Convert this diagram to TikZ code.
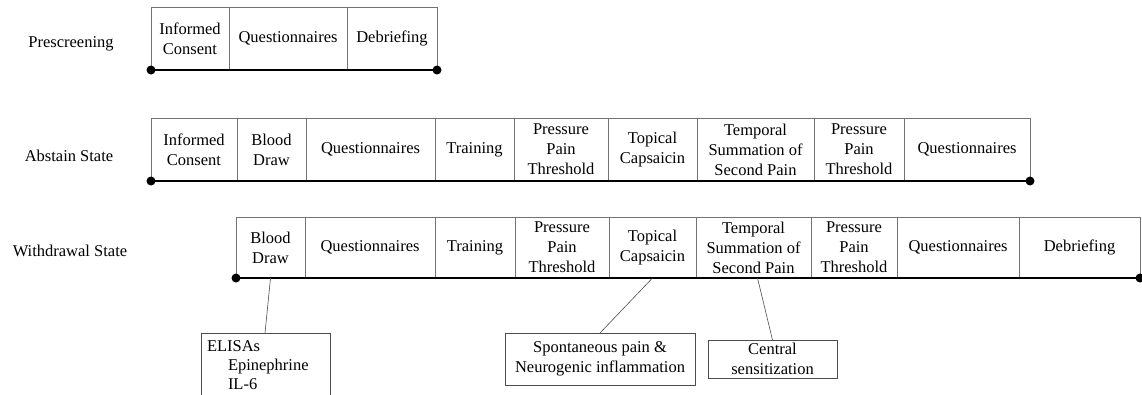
\documentclass[tikz,border=0pt]{standalone}
\usepackage{fontspec}
\setmainfont{Liberation Serif}
\usetikzlibrary{calc}
\begin{document}
\begin{tikzpicture}[x=1pt,y=-1pt,
  txt/.style={font=\fontsize{16.5}{20}\selectfont},
  cell/.style={txt, draw=black!55, line width=0.7pt, anchor=north west, align=center, inner sep=0pt, outer sep=0pt},
  rowP/.style={cell, minimum height=62.5pt},
  rowA/.style={cell, minimum height=63pt},
  rowW/.style={cell, minimum height=61pt},
  lbl/.style={txt, anchor=center},
  timeline/.style={line width=1.8pt, black},
  dot/.style={black},
  callout/.style={txt, draw=black!70, line width=0.6pt, anchor=north west, outer sep=0pt},
  conn/.style={draw=black!70, line width=0.6pt}]
\useasboundingbox (0,0) rectangle (1142,394);

% labels
\node[lbl] (lp) at (71,44) {Prescreening};
\node[lbl] (la) at (69,156) {Abstain State};
\node[lbl] (lw) at (70,251) {Withdrawal State};

% Prescreening row
\node[rowP, minimum width=78pt]  (p1) at (151,7.5) {Informed\\Consent};
\node[rowP, minimum width=118pt] (p2) at (229,7.5) {Questionnaires};
\node[rowP, minimum width=90pt]  (p3) at (347,7.5) {Debriefing};
\draw[timeline] (p1.south west) -- (p3.south east);
\fill[dot] (p1.south west) circle (4.5pt);
\fill[dot] (p3.south east) circle (4.5pt);

% Abstain row
\node[rowA, minimum width=86pt]  (a1) at (151,118) {Informed\\Consent};
\node[rowA, minimum width=69pt]  (a2) at (237,118) {Blood\\Draw};
\node[rowA, minimum width=129pt] (a3) at (306,118) {Questionnaires};
\node[rowA, minimum width=79pt]  (a4) at (435,118) {Training};
\node[rowA, minimum width=94pt]  (a5) at (514,118) {Pressure\\Pain\\Threshold};
\node[rowA, minimum width=89pt]  (a6) at (608,118) {Topical\\Capsaicin};
\node[rowA, minimum width=117pt] (a7) at (697,118) {Temporal\\Summation of\\Second Pain};
\node[rowA, minimum width=90pt]  (a8) at (814,118) {Pressure\\Pain\\Threshold};
\node[rowA, minimum width=126pt] (a9) at (904,118) {Questionnaires};
\draw[timeline] (a1.south west) -- (a9.south east);
\fill[dot] (a1.south west) circle (4.5pt);
\fill[dot] (a9.south east) circle (4.5pt);

% Withdrawal row
\node[rowW, minimum width=69pt]  (w1) at (236,217) {Blood\\Draw};
\node[rowW, minimum width=130pt] (w2) at (305,217) {Questionnaires};
\node[rowW, minimum width=80pt]  (w3) at (435,217) {Training};
\node[rowW, minimum width=94pt]  (w4) at (515,217) {Pressure\\Pain\\Threshold};
\node[rowW, minimum width=87pt]  (w5) at (609,217) {Topical\\Capsaicin};
\node[rowW, minimum width=115pt] (w6) at (696,217) {Temporal\\Summation of\\Second Pain};
\node[rowW, minimum width=86pt]  (w7) at (811,217) {Pressure\\Pain\\Threshold};
\node[rowW, minimum width=122pt] (w8) at (897,217) {Questionnaires};
\node[rowW, minimum width=121pt] (w9) at (1019,217) {Debriefing};
\draw[timeline] (w1.south west) -- (w9.south east);
\fill[dot] (w1.south west) circle (4.5pt);
\fill[dot] (w9.south east) circle (4.5pt);

% callouts
\node[callout, font=\fontsize{16.5}{19}\selectfont, text width=117pt, inner xsep=6pt, inner ysep=2pt, minimum height=64pt, align=left, anchor=north west] (elisa) at (201,333)
  {ELISAs\\\hspace*{21pt}Epinephrine\\\hspace*{21pt}IL-6};
\node[callout, minimum width=190pt, minimum height=52pt, align=center, inner sep=0pt] (spont) at (505,333)
  {Spontaneous pain \&\\Neurogenic inflammation};
\node[callout, minimum width=129pt, minimum height=38pt, align=center, inner sep=0pt] (cent) at (708,340)
  {Central\\sensitization};

\draw[conn] (w1.south) -- ($(elisa.north west)+(64,0)$);
\draw[conn] (w5.south) -- (spont.north);
\draw[conn] ($(w6.south)+(4,0)$) -- (cent.north);
\end{tikzpicture}
\end{document}
